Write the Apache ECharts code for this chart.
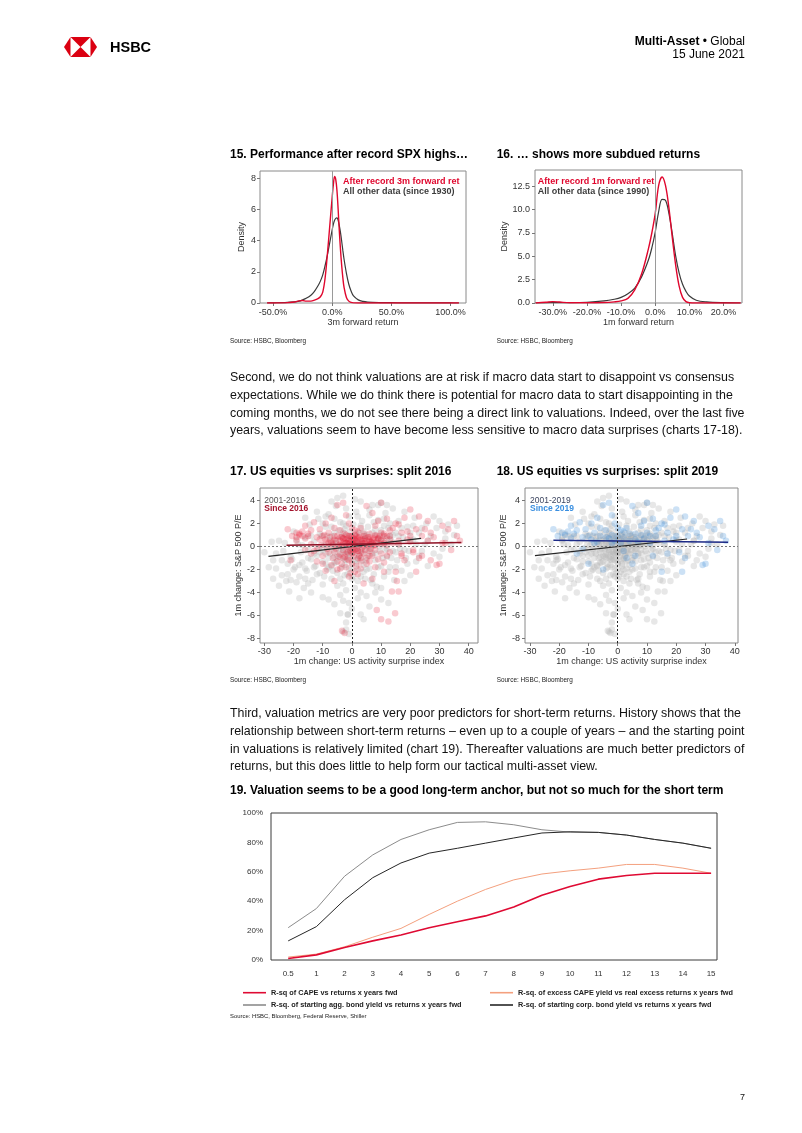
<!DOCTYPE html>
<html><head><meta charset="utf-8">
<script src="https://cdn.jsdelivr.net/npm/echarts@6/dist/echarts.min.js"></script>
<style>html,body{margin:0;padding:0;background:#fff;}#c{width:802px;height:1133px;}</style>
</head><body><div id="c"></div>
<script>
// ---------- Chart 15: density of 3m forward returns (x in %) ----------
const x15 =      [-55,-50,-40,-32,-28,-25,-22,-18,-15,-12,-10,-8,-6,-4,-2,0,1,2,3,4,5,6,7,8,9,10,12,14,16,18,22,26,30,40,50,60,80,100,107];
const other15 =  [0,0.01,0.03,0.07,0.12,0.2,0.3,0.5,0.75,1.1,1.4,1.8,2.4,3.1,3.9,4.7,5.05,5.3,5.42,5.45,5.3,4.95,4.5,3.95,3.35,2.8,1.9,1.2,0.75,0.45,0.2,0.1,0.06,0.03,0.02,0.01,0.005,0.002,0];
const after15 =  [0,0,0.01,0.06,0.14,0.16,0.12,0.12,0.18,0.28,0.4,0.7,1.6,3.2,5.0,6.8,7.6,8.1,7.9,7.2,6.0,4.6,3.4,2.4,1.6,1.0,0.35,0.12,0.04,0.01,0,0,0,0,0,0,0,0,0];
const x15Ticks = [-50,0,50,100];
const y15Ticks = [0,2,4,6,8];

// ---------- Chart 16: density of 1m forward returns (x in %) ----------
const x16 =      [-35,-32,-30,-28,-25,-20,-15,-12,-10,-8,-6,-4,-2,-1,0,1,2,3,4,5,6,7,8,9,10,12,15,20,25];
const other16 =  [0,0.02,0.04,0.05,0.05,0.08,0.22,0.4,0.6,1.0,1.6,2.8,4.6,5.9,7.6,9.8,11.1,11.0,9.6,7.4,5.0,3.2,2.0,1.25,0.75,0.3,0.12,0.03,0];
const after16 =  [0,0.08,0.15,0.1,0.03,0.03,0.05,0.12,0.22,0.5,1.4,3.1,5.8,7.5,9.6,12.6,13.5,12.6,10.2,7.0,4.0,1.8,0.6,0.15,0.03,0,0,0,0];
const x16Ticks = [-30,-20,-10,0,10,20];
const y16Ticks = [0,2.5,5,7.5,10,12.5];

// ---------- Charts 17/18: 1m change surprise index vs 1m change P/E ----------
const pts2001_2016 = [[-28.5,-1.8],[-27,-2.8],[-26,-0.6],[-25,-3.4],[-24,-1.2],[-23,0.3],[-22,-2.4],[-21.5,-3.9],[-21,-0.9],[-20,1.3],[-19.5,-1.8],[-19,-3.1],[-18.5,0.2],[-18,-2.6],[-17.5,-0.5],[-17,-1.4],[-16.5,-3.6],[-16,0.8],[-15.5,-2.1],[-15,-0.3],[-14.5,1.9],[-14,-1.1],[-13.5,-2.9],[-13,0.4],[-12.5,-1.7],[-12,-0.8],[-11.5,2.4],[-11,-2.3],[-10.5,0.9],[-10,-1.3],[-10,-3.3],[-9.5,0.1],[-9,-0.6],[-9,1.7],[-8.5,-2.0],[-8,-1.0],[-8,2.8],[-7.5,0.5],[-7,-1.7],[-7,-2.8],[-6.5,0.2],[-6,-0.9],[-6,1.2],[-5.5,-1.4],[-5.5,3.5],[-5,-2.3],[-5,0.6],[-4.5,-0.2],[-4,-1.0],[-4,-4.2],[-4,2.1],[-3.5,-1.8],[-3.5,0.9],[-3,-0.5],[-3,-3.2],[-2.5,1.5],[-2.5,-2.5],[-2,-1.2],[-2,0.3],[-1.5,-0.7],[-1.5,-5.9],[-1,-1.9],[-1,2.6],[-1,-4.9],[-0.5,-0.3],[0,-1.4],[0,0.8],[0.5,-2.6],[0.5,1.9],[1,-0.6],[1,-3.6],[1.5,0.4],[1.5,3.0],[2,-1.1],[2,-2.0],[2.5,1.2],[3,-0.3],[3,-4.0],[3.5,2.2],[4,-1.6],[4,0.6],[4,-6.3],[4.5,-2.8],[5,1.0],[5,-4.3],[5.5,-0.8],[6,2.7],[6,-1.9],[6.5,0.2],[7,-0.6],[7,3.6],[7.5,-2.4],[8,1.5],[8,-1.2],[8.5,-3.5],[9,0.6],[9,2.3],[9.5,-0.4],[10,-1.7],[10,3.8],[10.5,1.0],[11,-2.6],[11,0.2],[11.5,2.9],[12,-0.9],[12.5,-4.9],[12.5,1.6],[13,-1.8],[13.5,0.5],[14,3.3],[14,-0.4],[14.5,-2.9],[15,1.2],[15.5,-1.2],[16,2.2],[16.5,-0.2],[17,-2.1],[17.5,0.8],[18,3.0],[18.5,-1.0],[19,1.7],[19.5,-0.4],[20,-2.5],[21,0.6],[21.5,2.5],[22,-1.3],[23,1.2],[24,-0.4],[25,0.2],[25.5,2.0],[26,-1.7],[27,0.9],[28,-0.6],[29,1.6],[30,2.2],[31,-0.2],[32,0.7],[33,1.9],[35,1.0],[36,1.8],[-5,4.2],[-3,4.4],[3,3.9],[9,3.6],[-12,3.0],[-2,-7.2],[-3,-7.4],[-1,-7.6],[-4,-5.8],[-1.3,-5.9],[-3,-4.7],[2,-4.5],[6,-5.2],[8,-4.0],[-8,-4.6],[-14,-4.0],[-18,-4.5],[-20,-2.0],[-24,-2.5],[-27,-1.2],[-30,-0.5],[0,-0.5],[1,0.2],[-1,0.5],[2,-0.2],[-2,-0.4],[3,0.3],[-0.5,-1],[0.5,-0.1],[1.5,-1.5],[-1.5,0.9],[-3,1.2],[4,1.3],[-4,-0.5],[5,-0.3],[-6,-0.3],[2.5,-0.8],[-2.5,-1.1],[3.5,-1.2],[6,0.5],[-7,0.9],[-8,0.0],[7,1.2],[8,0.3],[-9,-1.5],[10,0.5],[-11,-0.5],[12,-0.2],[-13,-1.8],[13,0.9],[-15,-1.0],[15,-0.5],[-5,-3.4],[5,-2.0],[0,-2.8],[-2,-3.8],[3,-2.6],[7,-3.2],[-10,2.0],[-6,2.4],[-2,3.3],[2,2.6],[11,1.8],[16,0.9],[20,1.2],[23,-0.8],[-16,-2.8],[-22,-1.5],[-25,0.5],[18,-3.0],[10,-3.6],
 [-26,-1.9],[-23.5,-0.4],[-22.5,-3.0],[-20.5,-1.1],[-19,0.6],[-18,-1.6],[-17,0.1],[-16,-1.9],[-15,-3.2],[-14,0.9],[-13,-0.6],[-12,-2.4],[-11.5,-0.2],[-11,1.1],[-10,-0.3],[-9.5,-2.6],[-9,2.6],[-8.5,0.9],[-8,-1.8],[-7.5,-0.6],[-7,1.7],[-6.5,-2.1],[-6,-1.4],[-5.5,0.3],[-5,-0.8],[-4.5,1.4],[-4,-2.8],[-3.5,-0.1],[-3,2.0],[-2.5,-1.6],[-2,1.8],[-1.5,-2.4],[-1,-0.6],[-0.5,1.3],[0,-2.0],[0.5,0.5],[1,-1.2],[1.5,1.1],[2,-3.0],[2.5,0.2],[3,1.8],[3.5,-0.6],[4,-2.2],[4.5,0.9],[5,-1.2],[5.5,1.7],[6,-0.2],[6.5,-2.9],[7,0.1],[7.5,2.1],[8,-0.6],[8.5,1.0],[9,-1.8],[9.5,0.0],[10,1.4],[10.5,-1.0],[11,2.4],[11.5,-0.3],[12,0.7],[12.5,-2.2],[13,2.0],[13.5,-1.0],[14,1.0],[15,-1.8],[16,0.2],[17,1.6],[18,-0.3],[19,-1.5],[20,0.6],[21,1.8],[22,0.2],[24,1.6],[26,0.5],[28,2.6],[30,-0.9],[32,1.3],[34,0.2],[-27.5,0.4],[-21,-2.9],[-16,2.5],[6,3.2],[-7,3.9],[12,3.6],[1,4.1],[-10,-4.4],[10,-4.6],[-6,-5.0],[0,-5.4],[-2,-6.6],[3,-5.9]];
const pts2016_2019 = [[-8,-0.5],[-7,0.3],[-6.5,-1.0],[-6,0.6],[-5.5,-0.2],[-5,-1.3],[-5,0.9],[-4.5,0.1],[-4,-0.7],[-4,0.5],[-3.5,-1.5],[-3.5,0.8],[-3,-0.3],[-3,0.3],[-2.5,-0.9],[-2.5,1.1],[-2,0],[-2,-1.8],[-2,0.6],[-1.5,-0.5],[-1.5,0.3],[-1,-1.2],[-1,0.9],[-1,-0.1],[-0.5,-2.3],[-0.5,0.4],[0,-0.6],[0,0.2],[0,-1.5],[0.5,0.7],[0.5,-0.9],[1,0.1],[1,-0.3],[1,1.0],[1.5,-1.7],[1.5,0.5],[2,-0.4],[2,0.3],[2,-2.4],[2.5,0.8],[2.5,-0.8],[3,0.2],[3,-1.3],[3.5,0.6],[3.5,-0.1],[4,0.9],[4,-0.6],[4.5,0.3],[5,-1.0],[5,0.5],[5.5,0.1],[6,0.8],[6,-0.4],[6.5,0.4],[7,-0.8],[7,0.6],[7.5,0.1],[8,0.9],[8,-0.3],[8.5,0.4],[9,-1.1],[9,0.7],[10,0.2],[10,-0.6],[11,0.5],[11,-1.4],[12,0.1],[12,0.9],[-9,0.4],[-10,-0.8],[-11,0.6],[-12,-1.3],[-14,0.2],[-9,-2.1],[13,-0.5],[14,0.3],[10,-6.3],[12.5,-6.5],[8.5,-5.5],[14.8,-5.8],[16,-3.9],[13.7,-3.9],[15.4,-3.0],[-3.4,-7.3],[-2.5,-7.5],[4,-3.2],[-6,-3.0],[7,-2.8],[18,-1.2],[20,0.4],[24,-0.8],[-16,-0.3],[-19,0.5],[-21,-1.2],
 [-7.5,0.8],[-6.5,0.1],[-6,-0.5],[-5.5,0.5],[-4.5,-0.9],[-4,0.2],[-3.5,0.1],[-3,-1.0],[-3,0.7],[-2.5,0.4],[-2,-0.6],[-1.5,0.7],[-1.5,-1.1],[-1,0.2],[-0.5,-0.4],[-0.5,0.9],[0,0.5],[0,-0.2],[0.5,0.2],[0.5,-0.5],[1,0.6],[1.5,-0.2],[1.5,0.9],[2,0.7],[2,-1.0],[2.5,0.1],[3,0.6],[3,-0.5],[3.5,0.3],[4,0.0],[4.5,0.7],[4.5,-0.3],[5,0.2],[5.5,0.8],[6,0.2],[6.5,-0.2],[7,0.3],[7.5,0.7],[8,0.1],[9,0.3],[9.5,0.9],[10,0.6],[-8.5,-0.2],[-9.5,1.0],[-10.5,0.1],[-13,-0.4],[-15,0.9],[-18,1.1],[-17,0.9],[-19,0.8],[11,1.1],[13,0.6],[16,0.2],[17,-0.8],[19,1.3],[21,-0.3],[26,0.5],[27,-1.2],[32,0.3],[-1,-2.6],[1,-2.2],[3,-1.9],[-4,-1.9],[6,-1.3],[8,-1.8],[11,-2.2],[-7,-1.6]];
const pts2019on = [[-20.5,0.9],[-18,1.0],[-17,1.3],[-16,0.7],[-15,1.1],[-13,2.1],[-12,0.8],[-11,1.5],[-10,-1.5],[-9,0.6],[-8,1.2],[-7,2.5],[-7,0.4],[-6,0.9],[-5,3.6],[-5,-2.0],[-4,1.4],[-3,0.7],[-3,3.8],[-2,1.0],[-1,0.5],[-1,2.0],[0,0.9],[1,1.4],[1,0.3],[2,0.8],[3,1.6],[3,-1.0],[4,0.5],[5,3.5],[5,-1.5],[6,1.1],[7,0.4],[8,1.8],[9,0.7],[10,3.8],[10,1.2],[11,0.3],[12,-0.8],[12,2.4],[13,0.9],[14,1.6],[15,-2.2],[15,2.0],[16,0.5],[17,1.2],[18,2.5],[19,0.6],[20,3.2],[21,-0.5],[22,-2.2],[22,1.5],[24,0.9],[25,1.5],[26,2.2],[28,0.8],[29,-1.6],[30,-1.5],[31,1.8],[33,1.5],[34,-0.3],[35,2.2],[36,0.9],[37,0.5],[-14,-0.6],[-22,1.5],[23,-1.0],
 [-19,1.2],[-14,1.4],[-10,0.9],[-8,0.3],[-6,1.6],[-4,0.8],[-2,0.3],[0,1.6],[2,1.3],[4,1.1],[6,0.6],[8,1.0],[9,2.2],[11,0.9],[13,1.4],[7,2.9],[-2,2.7],[-9,2.0],[16,1.9],[20,0.9],[27,1.2],[31,0.3],[6,-0.8],[-12,-0.2],[2,-0.4],[17,-0.6],[23,2.6],[-16,1.8]];
const trend2001_2016 = [[-28.6,-0.86],[23.7,0.7]];
const trendSince2016 = [[-22.4,0.1],[37.5,0.35]];
const trend2001_2019 = [[-28.3,-0.8],[23.7,0.65]];
const trendSince2019 = [[-22,0.53],[37.7,0.36]];
const xTicks17 = [-30,-20,-10,0,10,20,30,40];
const yTicks17 = [-8,-6,-4,-2,0,2,4];

// ---------- Chart 19: R-squared by horizon ----------
const horizons19 = ['0.5','1','2','3','4','5','6','7','8','9','10','11','12','13','14','15'];
const cape19 =       [0.01,0.035,0.085,0.13,0.17,0.22,0.26,0.30,0.36,0.44,0.50,0.55,0.575,0.59,0.59,0.59];
const excessCape19 = [0.02,0.04,0.09,0.155,0.215,0.31,0.40,0.48,0.545,0.585,0.607,0.625,0.65,0.65,0.625,0.59];
const aggBond19 =    [0.22,0.35,0.57,0.715,0.82,0.886,0.936,0.94,0.92,0.886,0.87,0.868,0.85,0.82,0.795,0.76];
const corpBond19 =   [0.13,0.227,0.41,0.56,0.66,0.727,0.76,0.795,0.83,0.864,0.872,0.868,0.85,0.82,0.795,0.76];
const yTicks19 = [0,0.2,0.4,0.6,0.8,1];

// ---------- Page text ----------
const para1 = [
 'Second, we do not think valuations are at risk if macro data start to disappoint vs consensus',
 'expectations. While we do think there is potential for macro data to start disappointing in the',
 'coming months, we do not see there being a direct link to valuations. Indeed, over the last five',
 'years, valuations seem to have become less sensitive to macro data surprises (charts 17-18).'];
const para2 = [
 'Third, valuation metrics are very poor predictors for short-term returns. History shows that the',
 'relationship between short-term returns \u2013 even up to a couple of years \u2013 and the starting point',
 'in valuations is relatively limited (chart 19). Thereafter valuations are much better predictors of',
 'returns, but this does little to help form our tactical multi-asset view.'];

const FONT = "'Liberation Sans', Arial, Helvetica, sans-serif";
const LBL = '#333';
const chart = echarts.init(document.getElementById('c'), null, {renderer:'canvas'});

function vAxis(gi, min, max, ticks, fmt, o) {
  o = o || {};
  return {
    type:'value', gridIndex:gi, min:min, max:max,
    axisLine:{show:false, onZero:false}, splitLine:{show:false},
    axisTick:{show:o.tick!==false, customValues:ticks, length:3, lineStyle:{color:'#777', width:1}},
    axisLabel:{customValues:ticks, formatter:fmt, fontSize:o.fs||9, color:LBL, fontFamily:FONT, margin:o.margin||4},
    name:o.name||'', nameLocation:'middle', nameGap:o.nameGap||15,
    nameTextStyle:{fontSize:9, color:LBL, fontFamily:FONT}
  };
}
function txt(x, y, text, size, o) {
  o = o || {};
  return {type:'text', x:x, y:y, silent:true, style:{text:text, fontSize:size, fontFamily:FONT,
    fontWeight:o.bold?'bold':'normal', fill:o.color||'#111', align:o.align||'left', verticalAlign:'middle', rich:o.rich}};
}
const pct1 = v => v.toFixed(1) + '%';
const zeroV = color => ({silent:true, symbol:'none', label:{show:false}, animation:false,
  data:[{xAxis:0, lineStyle:{color:color, type:'solid', width:1}}]});
const zeroXY = {silent:true, symbol:'none', label:{show:false}, animation:false,
  data:[{xAxis:0, lineStyle:{color:'#222', type:[2,2], width:1}}, {yAxis:0, lineStyle:{color:'#777', type:[2,2], width:1}}]};
const pair = (xs, ys) => xs.map((x,i) => [x, ys[i]]);
const GRAY = 'rgba(180,180,180,0.4)';
const RED = 'rgba(228,18,45,0.28)';
const BLUE = 'rgba(45,130,215,0.30)';
const gridBase = {show:true, borderColor:'#8a8a8a', borderWidth:1, backgroundColor:'transparent', containLabel:false, outerBoundsMode:'none'};

const graphic = [];
// header logo
const L = {x0:64, x1:97, t:37, b:57}, yc = (L.t+L.b)/2, s0 = 70.5, s1 = 90.5, xc = (s0+s1)/2;
const poly = (pts, fill) => ({type:'polygon', silent:true, shape:{points:pts}, style:{fill:fill}});
graphic.push(poly([[L.x0,yc],[s0,L.t],[s0,L.b]], '#db0011'));
graphic.push(poly([[L.x1,yc],[s1,L.t],[s1,L.b]], '#db0011'));
graphic.push(poly([[s0,L.t],[s1,L.t],[xc,yc]], '#db0011'));
graphic.push(poly([[s0,L.b],[s1,L.b],[xc,yc]], '#db0011'));
graphic.push(txt(110, 48, 'HSBC', 14.5, {bold:true, color:'#000'}));
graphic.push(txt(745, 42, '{b|Multi-Asset} \u2022 Global', 12, {color:'#000', align:'right', rich:{b:{fontWeight:'bold', fontSize:12, fontFamily:FONT, fill:'#000'}}}));
graphic.push(txt(745, 55, '15 June 2021', 12, {color:'#000', align:'right'}));
// titles
graphic.push(txt(230, 155, '15. Performance after record SPX highs\u2026', 12, {bold:true, color:'#000'}));
graphic.push(txt(496.7, 155, '16. \u2026 shows more subdued returns', 12, {bold:true, color:'#000'}));
graphic.push(txt(230, 472, '17. US equities vs surprises: split 2016', 12, {bold:true, color:'#000'}));
graphic.push(txt(496.7, 472, '18. US equities vs surprises: split 2019', 12, {bold:true, color:'#000'}));
graphic.push(txt(230, 791, '19. Valuation seems to be a good long-term anchor, but not so much for the short term', 12, {bold:true, color:'#000'}));
// in-plot keys
graphic.push(txt(343, 182, 'After record 3m forward ret', 9, {bold:true, color:'#e0062d'}));
graphic.push(txt(343, 191.5, 'All other data (since 1930)', 9, {bold:true, color:'#3c3c3c'}));
graphic.push(txt(537.7, 181.7, 'After record 1m forward ret', 9, {bold:true, color:'#e0062d'}));
graphic.push(txt(537.7, 191.7, 'All other data (since 1990)', 9, {bold:true, color:'#3c3c3c'}));
graphic.push(txt(264.3, 500.7, '2001-2016', 8.5, {color:'#555'}));
graphic.push(txt(264.3, 508.5, 'Since 2016', 8.5, {bold:true, color:'#a3122c'}));
graphic.push(txt(530, 500.7, '2001-2019', 8.5, {color:'#3d4660'}));
graphic.push(txt(530, 508.5, 'Since 2019', 8.5, {bold:true, color:'#3a8fe0'}));
// sources
graphic.push(txt(230, 341.7, 'Source: HSBC, Bloomberg', 6.4, {color:'#222'}));
graphic.push(txt(496.7, 341.7, 'Source: HSBC, Bloomberg', 6.4, {color:'#222'}));
graphic.push(txt(230, 680, 'Source: HSBC, Bloomberg', 6.4, {color:'#222'}));
graphic.push(txt(496.7, 680, 'Source: HSBC, Bloomberg', 6.4, {color:'#222'}));
graphic.push(txt(230, 1016, 'Source: HSBC, Bloomberg, Federal Reserve, Shiller', 5.9, {color:'#222'}));
// paragraphs
const p1y = [378, 396, 413.5, 431], p2y = [714, 732, 749.5, 767];
para1.forEach((s,i) => graphic.push(txt(230, p1y[i], s, 12.4, {color:'#111'})));
para2.forEach((s,i) => graphic.push(txt(230, p2y[i], s, 12.4, {color:'#111'})));
graphic.push(txt(740, 1098, '7', 9, {color:'#111'}));

const legText = {fontSize:7.3, fontWeight:'bold', color:'#222', fontFamily:FONT, lineHeight:9};
const leg = (name, left, top) => ({data:[name], left:left, top:top, icon:'rect', itemWidth:23, itemHeight:1.6,
  padding:0, selectedMode:false, textStyle:legText});

const option = {
  animation:false,
  backgroundColor:'#fff',
  graphic:graphic,
  grid:[
    Object.assign({left:260, top:171, width:206, height:132}, gridBase),
    Object.assign({left:535, top:170, width:207, height:133}, gridBase),
    Object.assign({left:260, top:488, width:218, height:155}, gridBase),
    Object.assign({left:525, top:488, width:213, height:155}, gridBase),
    Object.assign({}, gridBase, {left:271, top:813, width:446, height:147, borderColor:'#3a3a3a'})
  ],
  legend:[
    leg('R-sq of CAPE vs returns x years fwd', 243, 988.2),
    leg('R-sq. of excess CAPE yield vs real excess returns x years fwd', 490, 988.2),
    leg('R-sq. of starting agg. bond yield vs returns x years fwd', 243, 1000.5),
    leg('R-sq. of starting corp. bond yield vs returns x years fwd', 490, 1000.5)
  ],
  xAxis:[
    vAxis(0, -61, 113, x15Ticks, pct1, {name:'3m forward return', nameGap:15, margin:5}),
    vAxis(1, -35.2, 25.4, x16Ticks, pct1, {name:'1m forward return', nameGap:15, margin:5}),
    vAxis(2, -31.5, 43.2, xTicks17, v => String(v), {name:'1m change: US activity surprise index', nameGap:14, margin:4}),
    vAxis(3, -31.7, 41.1, xTicks17, v => String(v), {name:'1m change: US activity surprise index', nameGap:14, margin:4}),
    vAxis(4, -0.61, 15.21, horizons19.map((h,i)=>i), v => horizons19[Math.round(v)], {tick:false, fs:8, margin:10})
  ],
  yAxis:[
    vAxis(0, 0, 8.45, y15Ticks, v => String(v), {name:'Density', nameGap:14.2, margin:4}),
    vAxis(1, 0, 14.25, y16Ticks, v => v.toFixed(1), {name:'Density', nameGap:25.5, margin:5}),
    vAxis(2, -8.37, 5.07, yTicks17, v => String(v), {name:'1m change: S&P 500 P/E', nameGap:17.2, margin:5}),
    vAxis(3, -8.37, 5.07, yTicks17, v => String(v), {name:'1m change: S&P 500 P/E', nameGap:17.2, margin:5}),
    vAxis(4, 0, 1, yTicks19, v => Math.round(v*100) + '%', {tick:false, fs:8, margin:8})
  ],
  series:[
    // chart 15
    {name:'All other data (since 1930)', type:'line', xAxisIndex:0, yAxisIndex:0, data:pair(x15, other15),
     showSymbol:false, smooth:0.35, color:'#3a3a3a', lineStyle:{width:1.2}, markLine:zeroV('#9a9a9a')},
    {name:'After record 3m forward ret', type:'line', xAxisIndex:0, yAxisIndex:0, data:pair(x15, after15),
     showSymbol:false, smooth:0.35, color:'#e0062d', lineStyle:{width:1.4}},
    // chart 16
    {name:'All other data (since 1990)', type:'line', xAxisIndex:1, yAxisIndex:1, data:pair(x16, other16),
     showSymbol:false, smooth:0.35, color:'#3a3a3a', lineStyle:{width:1.2}, markLine:zeroV('#9a9a9a')},
    {name:'After record 1m forward ret', type:'line', xAxisIndex:1, yAxisIndex:1, data:pair(x16, after16),
     showSymbol:false, smooth:0.35, color:'#e0062d', lineStyle:{width:1.4}},
    // chart 17
    {name:'2001-2016', type:'scatter', xAxisIndex:2, yAxisIndex:2, data:pts2001_2016, symbolSize:6.5, itemStyle:{color:GRAY}},
    {name:'Since 2016', type:'scatter', xAxisIndex:2, yAxisIndex:2, data:pts2016_2019.concat(pts2019on), symbolSize:6.5, itemStyle:{color:RED}},
    {name:'Trend 2001-2016', type:'line', xAxisIndex:2, yAxisIndex:2, data:trend2001_2016, showSymbol:false, color:'#262626', lineStyle:{width:1.2}, markLine:zeroXY},
    {name:'Trend since 2016', type:'line', xAxisIndex:2, yAxisIndex:2, data:trendSince2016, showSymbol:false, color:'#8e1024', lineStyle:{width:1.4}},
    // chart 18
    {name:'2001-2019', type:'scatter', xAxisIndex:3, yAxisIndex:3, data:pts2001_2016.concat(pts2016_2019), symbolSize:6.5, itemStyle:{color:GRAY}},
    {name:'Since 2019', type:'scatter', xAxisIndex:3, yAxisIndex:3, data:pts2019on, symbolSize:6.5, itemStyle:{color:BLUE}},
    {name:'Trend 2001-2019', type:'line', xAxisIndex:3, yAxisIndex:3, data:trend2001_2019, showSymbol:false, color:'#262626', lineStyle:{width:1.2}, markLine:zeroXY},
    {name:'Trend since 2019', type:'line', xAxisIndex:3, yAxisIndex:3, data:trendSince2019, showSymbol:false, color:'#1c2a86', lineStyle:{width:1.5}},
    // chart 19
    {name:'R-sq. of starting agg. bond yield vs returns x years fwd', type:'line', xAxisIndex:4, yAxisIndex:4,
     data:aggBond19.map((v,i)=>[i,v]), showSymbol:false, color:'#8c8c8c', lineStyle:{width:1}},
    {name:'R-sq. of starting corp. bond yield vs returns x years fwd', type:'line', xAxisIndex:4, yAxisIndex:4,
     data:corpBond19.map((v,i)=>[i,v]), showSymbol:false, color:'#262626', lineStyle:{width:1}},
    {name:'R-sq. of excess CAPE yield vs real excess returns x years fwd', type:'line', xAxisIndex:4, yAxisIndex:4,
     data:excessCape19.map((v,i)=>[i,v]), showSymbol:false, color:'#f4a07e', lineStyle:{width:1}},
    {name:'R-sq of CAPE vs returns x years fwd', type:'line', xAxisIndex:4, yAxisIndex:4,
     data:cape19.map((v,i)=>[i,v]), showSymbol:false, color:'#df0a33', lineStyle:{width:1.6}}
  ]
};
chart.setOption(option);
</script></body></html>
